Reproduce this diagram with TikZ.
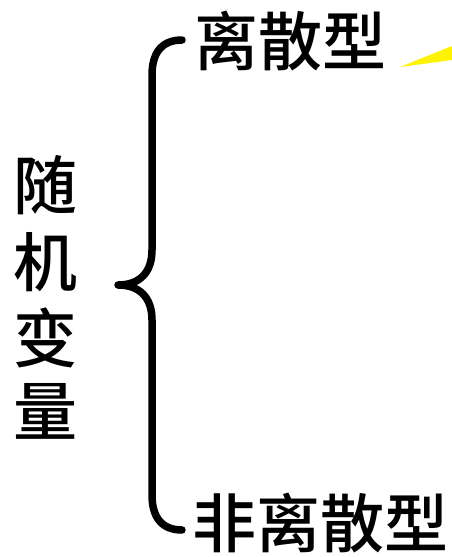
\documentclass[tikz,border=0pt]{standalone}
\usepackage{fontspec}
\newfontfamily\cjk{Noto Sans CJK SC Medium}
\begin{document}
\begin{tikzpicture}[x=1pt,y=-1pt,
  lbl/.style={font=\cjk\fontsize{64}{66}\selectfont, inner sep=0pt, anchor=center},
  bracestyle/.style={line width=7.5pt, line cap=round, line join=round}]
\useasboundingbox (0,0) rectangle (452,557);
\node[lbl] (top) at (290,41) {离散型};
\node[lbl] (bot) at (320,523) {非离散型};
\node[lbl] (v1) at (45,185) {随};
\node[lbl] (v2) at (45,262) {机};
\node[lbl] (v3) at (45,338) {变};
\node[lbl] (v4) at (45,411) {量};
\coordinate (btop) at (182,40);
\coordinate (btip) at (118,285);
\coordinate (bbot) at (182,530);
\draw[bracestyle] (btop) .. controls (160,40) and (152,55) .. (152,75)
  -- (152,250) .. controls (152,272) and (140,285) .. (btip)
  .. controls (140,285) and (152,298) .. (152,320)
  -- (152,495) .. controls (152,515) and (160,530) .. (bbot);
\fill[yellow] (400,67) -- (452,46) -- (452,60) -- cycle;
\end{tikzpicture}
\end{document}
